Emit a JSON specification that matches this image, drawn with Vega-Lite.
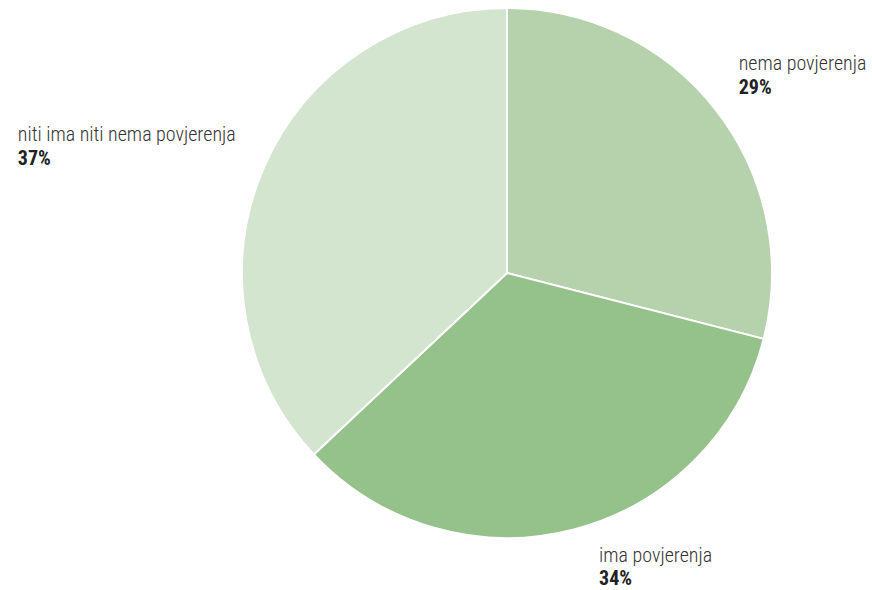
{
  "$schema": "https://vega.github.io/schema/vega-lite/v6.json",
  "width": 730,
  "height": 546,
  "autosize": "none",
  "padding": {"left": 142, "top": 0, "right": 0, "bottom": 44},
  "background": "white",
  "config": {"view": {"stroke": null}, "font": "Roboto Condensed, Liberation Sans Narrow, DejaVu Sans Condensed, Roboto, sans-serif"},
  "data": {
    "values": [
      {"label": "nema povjerenja", "value": 0.29, "i": 1},
      {"label": "ima povjerenja", "value": 0.34, "i": 2},
      {"label": "niti ima niti nema povjerenja", "value": 0.37, "i": 3}
    ]
  },
  "encoding": {
    "theta": {"field": "value", "type": "quantitative", "stack": true},
    "order": {"field": "i", "type": "quantitative"},
    "detail": {"field": "label", "type": "nominal"}
  },
  "layer": [
    {
      "mark": {"type": "arc", "outerRadius": 265, "stroke": "white", "strokeWidth": 2},
      "encoding": {
        "color": {
          "field": "label", "type": "nominal", "legend": null,
          "scale": {"domain": ["nema povjerenja", "ima povjerenja", "niti ima niti nema povjerenja"], "range": ["#b5d2ac", "#95c18b", "#d3e4cf"]}
        }
      }
    },
    {
      "mark": {"type": "text", "radius": 292, "align": "left", "baseline": "alphabetic", "dx": 1, "dy": -24, "fontSize": 20, "fontWeight": 300, "fill": "#333333"},
      "encoding": {"text": {"condition": {"test": "datum.label === 'nema povjerenja'", "field": "label"}, "value": ""}}
    },
    {
      "mark": {"type": "text", "radius": 292, "align": "left", "baseline": "alphabetic", "dx": 1, "dy": 0, "fontSize": 20, "fontWeight": "bold", "fill": "#222222"},
      "encoding": {"text": {"condition": {"test": "datum.label === 'nema povjerenja'", "field": "value", "type": "quantitative", "format": ".0%"}, "value": ""}}
    },
    {
      "mark": {"type": "text", "radius": 290, "align": "left", "baseline": "alphabetic", "dx": 20, "dy": 8, "fontSize": 20, "fontWeight": 300, "fill": "#333333"},
      "encoding": {"text": {"condition": {"test": "datum.label === 'ima povjerenja'", "field": "label"}, "value": ""}}
    },
    {
      "mark": {"type": "text", "radius": 290, "align": "left", "baseline": "alphabetic", "dx": 20, "dy": 31, "fontSize": 20, "fontWeight": "bold", "fill": "#222222"},
      "encoding": {"text": {"condition": {"test": "datum.label === 'ima povjerenja'", "field": "value", "type": "quantitative", "format": ".0%"}, "value": ""}}
    },
    {
      "mark": {"type": "text", "radius": 290, "align": "left", "baseline": "alphabetic", "dx": -223, "dy": -17, "fontSize": 20, "fontWeight": 300, "fill": "#333333"},
      "encoding": {"text": {"condition": {"test": "datum.label === 'niti ima niti nema povjerenja'", "field": "label"}, "value": ""}}
    },
    {
      "mark": {"type": "text", "radius": 290, "align": "left", "baseline": "alphabetic", "dx": -223, "dy": 7, "fontSize": 20, "fontWeight": "bold", "fill": "#222222"},
      "encoding": {"text": {"condition": {"test": "datum.label === 'niti ima niti nema povjerenja'", "field": "value", "type": "quantitative", "format": ".0%"}, "value": ""}}
    }
  ]
}
